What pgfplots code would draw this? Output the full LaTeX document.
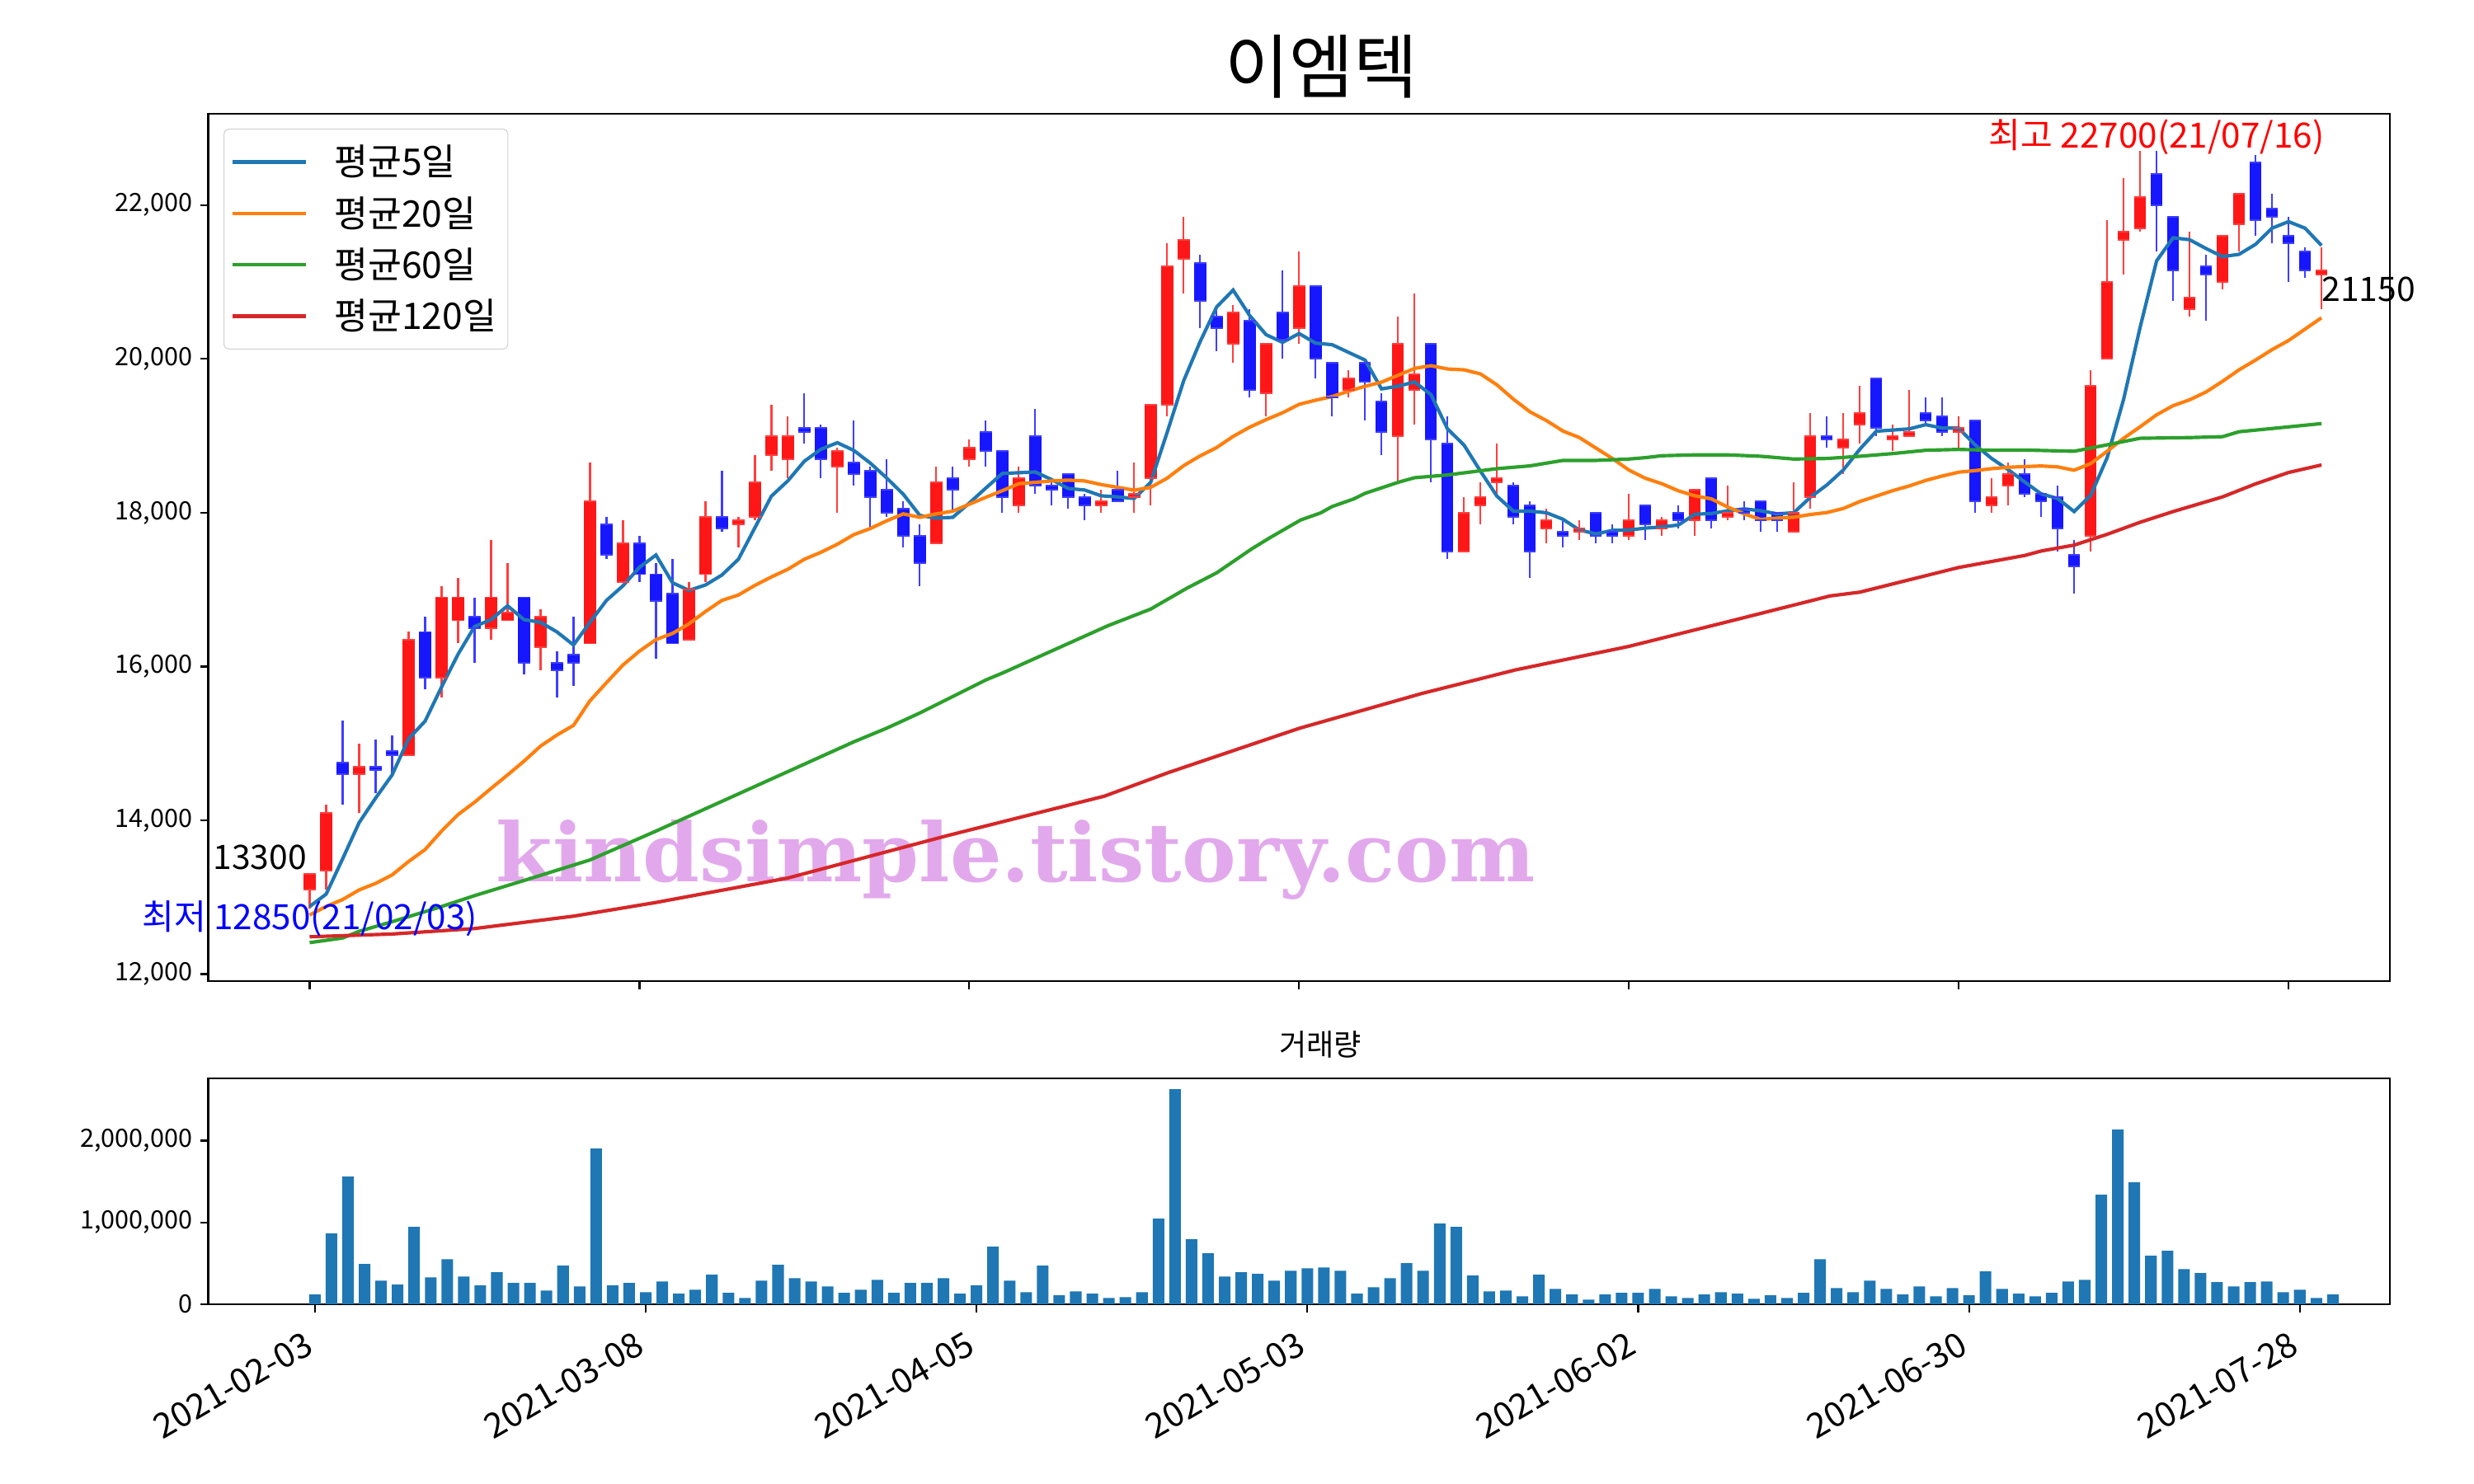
\documentclass[border=0pt]{standalone}
\usepackage{pgfplots}
\pgfplotsset{compat=1.18}
\usepackage{pgfplotstable}
\usepackage{fontspec}
\setmainfont{Noto Sans CJK KR}
\newfontfamily\wmfont{DejaVu Serif}

\definecolor{ma5}{HTML}{1F77B4}
\definecolor{ma20}{HTML}{FF7F0E}
\definecolor{ma60}{HTML}{2CA02C}
\definecolor{ma120}{HTML}{D62728}
\definecolor{upbody}{RGB}{255,22,22}
\definecolor{upwick}{RGB}{255,62,62}
\definecolor{dnbody}{RGB}{22,22,255}
\definecolor{dnwick}{RGB}{62,62,255}
\definecolor{wm}{RGB}{226,168,236}

% candles: i open high low close
\pgfplotstableread{
i o h l c
0 13100 13300 12850 13300
1 13350 14200 13100 14100
3 14600 15000 14100 14700
6 14850 16450 14850 16350
8 15850 17050 15600 16900
9 16600 17150 16300 16900
11 16500 17650 16350 16900
12 16600 17350 16600 16700
14 16250 16750 15950 16650
17 16300 18650 16300 18150
19 17100 17900 17100 17600
23 16350 17100 16350 17000
24 17200 18150 17100 17950
26 17850 17950 17550 17900
27 17950 18750 17900 18400
28 18750 19400 18550 19000
29 18700 19250 18450 19000
32 18600 18850 18000 18800
38 17600 18600 17600 18400
40 18700 18950 18600 18850
43 18100 18600 18000 18450
48 18100 18300 18000 18150
50 18200 18650 18000 18250
51 18450 19400 18100 19400
52 19400 21500 19250 21200
53 21300 21850 20850 21550
56 20200 20700 19950 20600
58 19550 20200 19250 20200
60 20400 21400 20200 20950
63 19600 19850 19500 19750
66 19000 20550 18400 20200
67 19600 20850 19150 19800
70 17500 18200 17500 18000
71 18100 18400 17850 18200
72 18400 18900 18250 18450
75 17800 18050 17600 17900
77 17750 17900 17650 17800
80 17700 18250 17650 17900
82 17800 17950 17700 17900
84 17900 18300 17700 18300
86 17950 18350 17900 18000
90 17750 18400 17750 18000
91 18200 19300 18050 19000
93 18850 19300 18500 18950
94 19150 19650 18900 19300
96 18950 19150 18800 19000
97 19000 19600 19000 19050
100 19050 19250 18850 19100
102 18100 18450 18000 18200
103 18350 18650 18100 18500
108 17700 19850 17500 19650
109 20000 21800 20000 21000
110 21550 22350 21100 21650
111 21700 22700 21650 22100
114 20650 21650 20550 20800
116 21000 21600 20900 21600
117 21750 22150 21400 22150
122 21100 21450 20650 21150
}\candleup

\pgfplotstableread{
i o h l c
2 14750 15300 14200 14600
4 14700 15050 14350 14650
5 14900 15100 14600 14850
7 16450 16650 15700 15850
10 16650 16900 16050 16500
13 16900 16900 15900 16050
15 16050 16200 15600 15950
16 16150 16650 15750 16050
18 17850 17950 17400 17450
20 17600 17700 17100 17200
21 17200 17350 16100 16850
22 16950 17400 16300 16300
25 17950 18550 17750 17800
30 19100 19550 18900 19050
31 19100 19150 18450 18700
33 18650 19200 18350 18500
34 18550 18600 17800 18200
35 18300 18700 17950 18000
36 18050 18150 17550 17700
37 17700 17850 17050 17350
39 18450 18600 18000 18300
41 19050 19200 18600 18800
42 18800 18800 18000 18200
44 19000 19350 18250 18350
45 18350 18450 18100 18300
46 18500 18500 18050 18200
47 18200 18250 17900 18100
49 18300 18550 18150 18150
54 21250 21350 20400 20750
55 20550 20650 20100 20400
57 20500 20650 19500 19600
59 20600 21150 20000 20250
61 20950 20950 19750 20000
62 19950 19950 19250 19500
64 19950 19950 19200 19700
65 19450 19550 18750 19050
68 20200 20200 18400 18950
69 18900 19250 17400 17500
73 18350 18400 17850 17950
74 18100 18150 17150 17500
76 17750 17900 17550 17700
78 18000 18000 17600 17700
79 17750 17850 17600 17700
81 18100 18100 17650 17850
83 18000 18100 17800 17900
85 18450 18450 17800 17900
87 18050 18150 17900 18000
88 18150 18150 17750 17900
89 18000 18000 17750 17900
92 19000 19250 18850 18950
95 19750 19750 19000 19100
98 19300 19500 19150 19200
99 19250 19500 19000 19050
101 19200 19200 18000 18150
104 18500 18700 18200 18250
105 18250 18250 17950 18150
106 18200 18350 17500 17800
107 17450 17650 16950 17300
112 22400 22700 21400 22000
113 21850 21850 20750 21150
115 21200 21350 20500 21100
118 22550 22650 21600 21800
119 21950 22150 21500 21850
120 21600 21850 21000 21500
121 21400 21450 21050 21150
}\candledown

\pgfplotstableread{
i v
0 118000
1 864000
2 1560000
3 491000
4 289000
5 239000
6 945000
7 329000
8 551000
9 339000
10 229000
11 390000
12 259000
13 259000
14 168000
15 471000
16 218000
17 1903000
18 229000
19 259000
20 148000
21 279000
22 128000
23 178000
24 360000
25 138000
26 77000
27 289000
28 481000
29 319000
30 279000
31 218000
32 138000
33 178000
34 299000
35 138000
36 259000
37 259000
38 319000
39 128000
40 229000
41 703000
42 289000
43 148000
44 471000
45 108000
46 158000
47 128000
48 77000
49 87000
50 148000
51 1045000
52 2629000
53 793000
54 622000
55 339000
56 390000
57 370000
58 289000
59 410000
60 440000
61 450000
62 410000
63 128000
64 208000
65 319000
66 501000
67 410000
68 985000
69 945000
70 350000
71 158000
72 168000
73 97000
74 360000
75 188000
76 118000
77 57000
78 118000
79 138000
80 138000
81 188000
82 97000
83 77000
84 118000
85 148000
86 128000
87 67000
88 108000
89 77000
90 138000
91 551000
92 198000
93 148000
94 289000
95 188000
96 118000
97 218000
98 97000
99 198000
100 108000
101 400000
102 188000
103 128000
104 97000
105 138000
106 279000
107 299000
108 1338000
109 2134000
110 1489000
111 592000
112 652000
113 430000
114 380000
115 269000
116 218000
117 269000
118 279000
119 148000
120 178000
121 77000
122 118000
}\volume

\begin{document}
\begin{tikzpicture}
\path[use as bounding box] (0,0) rectangle (1080pt,648pt);

\pgfplotsset{
  mplstyle/.style={
    scale only axis, anchor=south west,
    axis line style={line width=0.8pt},
    tick style={black, line width=0.8pt},
    major tick length=3.5pt, tick align=outside, tick pos=left,
    scaled y ticks=false,
    yticklabel style={font=\fontsize{11}{13}\selectfont},
    xticklabel style={font=\fontsize{15}{17}\selectfont},
  },
}

\node[anchor=base, inner sep=0, font=\fontsize{30.5}{33}\selectfont] at (577pt,607.4pt) {이엠텍};

\begin{axis}[mplstyle,
  at={(90.9pt,219.6pt)}, width=952.4pt, height=378.8pt,
  xmin=-6.15, xmax=126.15, ymin=11910, ymax=23190,
  clip=false,
  xtick={0,20,...,120}, xticklabels={},
  ytick={12000,14000,...,22000},
  yticklabels={{12,000},{14,000},{16,000},{18,000},{20,000},{22,000}},
  legend image code/.code={\draw[#1, line width=1.5pt] (0pt,0pt) -- (32pt,0pt);},
  legend style={at={(0,1)}, anchor=north west, xshift=6.7pt, yshift=-6.6pt,
    draw=black!18, rounded corners=2pt, fill=white, fill opacity=0.85, text opacity=1,
    font=\fontsize{16}{18}\selectfont, cells={anchor=west}, row sep=3.7pt,
    inner xsep=3pt, inner ysep=5pt,
    /tikz/every odd column/.append style={column sep=9.6pt}},
]
% watermark first, lines go over it
\node[anchor=base west, inner sep=0, text=wm, font=\wmfont\bfseries\fontsize{35.5}{38}\selectfont]
  at (axis cs:11.3,13200) {kindsimple.tistory.com};

% wicks
\addplot[forget plot, draw=none, mark=none,
  error bars/.cd, y dir=plus, y explicit, error mark=none,
  error bar style={draw=upwick, line width=0.8pt}]
  table[x=i, y=l, y error expr=\thisrow{h}-\thisrow{l}] {\candleup};
\addplot[forget plot, draw=none, mark=none,
  error bars/.cd, y dir=plus, y explicit, error mark=none,
  error bar style={draw=dnwick, line width=0.8pt}]
  table[x=i, y=l, y error expr=\thisrow{h}-\thisrow{l}] {\candledown};
% bodies
\addplot[forget plot, draw=none, mark=none,
  error bars/.cd, y dir=plus, y explicit, error mark=none,
  error bar style={draw=upbody, line width=5.2pt}]
  table[x=i, y=o, y error expr=\thisrow{c}-\thisrow{o}] {\candleup};
\addplot[forget plot, draw=none, mark=none,
  error bars/.cd, y dir=plus, y explicit, error mark=none,
  error bar style={draw=dnbody, line width=5.2pt}]
  table[x=i, y=c, y error expr=\thisrow{o}-\thisrow{c}] {\candledown};
% body edges at open and close
\addplot[forget plot, only marks, mark=-, mark size=2.6pt, mark options={draw=upwick, line width=0.7pt}]
  table[x=i, y=o] {\candleup};
\addplot[forget plot, only marks, mark=-, mark size=2.6pt, mark options={draw=upwick, line width=0.7pt}]
  table[x=i, y=c] {\candleup};
\addplot[forget plot, only marks, mark=-, mark size=2.6pt, mark options={draw=dnwick, line width=0.7pt}]
  table[x=i, y=o] {\candledown};
\addplot[forget plot, only marks, mark=-, mark size=2.6pt, mark options={draw=dnwick, line width=0.7pt}]
  table[x=i, y=c] {\candledown};

\addplot[ma5, line width=1.5pt] coordinates {
(0,12880) (1,13040) (2,13500) (3,13970) (4,14290) (5,14590) (6,15060) (7,15290) (8,15735) (9,16160)
(10,16520) (11,16610) (12,16790) (13,16610) (14,16575) (15,16450) (16,16280) (17,16575) (18,16860) (19,17050)
(20,17290) (21,17450) (22,17090) (23,16990) (24,17060) (25,17190) (26,17395) (27,17805) (28,18215) (29,18415)
(30,18670) (31,18825) (32,18910) (33,18810) (34,18645) (35,18450) (36,18240) (37,17965) (38,17930) (39,17940)
(40,18125) (41,18320) (42,18510) (43,18520) (44,18530) (45,18430) (46,18315) (47,18295) (48,18220) (49,18205)
(50,18185) (51,18395) (52,19045) (53,19715) (54,20225) (55,20675) (56,20895) (57,20565) (58,20315) (59,20215)
(60,20330) (61,20205) (62,20185) (63,20085) (64,19985) (65,19610) (66,19645) (67,19700) (68,19535) (69,19090)
(70,18880) (71,18540) (72,18215) (73,18020) (74,18020) (75,18000) (76,17915) (77,17775) (78,17725) (79,17770)
(80,17775) (81,17800) (82,17815) (83,17840) (84,17980) (85,17990) (86,18025) (87,18050) (88,18025) (89,17985)
(90,18000) (91,18200) (92,18360) (93,18555) (94,18825) (95,19060) (96,19075) (97,19090) (98,19145) (99,19100)
(100,19100) (101,18880) (102,18705) (103,18560) (104,18400) (105,18245) (106,18185) (107,18015) (108,18225) (109,18715)
(110,19475) (111,20410) (112,21275) (113,21575) (114,21550) (115,21435) (116,21330) (117,21360) (118,21490) (119,21700)
(120,21785) (121,21700) (122,21475)};
\addlegendentry{평균5일}

\addplot[ma20, line width=1.5pt] coordinates {
(0,12770) (1,12880) (2,12970) (3,13095) (4,13180) (5,13290) (6,13465) (7,13620) (8,13860) (9,14075)
(10,14235) (11,14415) (12,14590) (13,14770) (14,14965) (15,15110) (16,15235) (17,15555) (18,15790) (19,16020)
(20,16200) (21,16350) (22,16430) (23,16555) (24,16715) (25,16860) (26,16930) (27,17055) (28,17165) (29,17265)
(30,17395) (31,17485) (32,17590) (33,17715) (34,17795) (35,17895) (36,17985) (37,17940) (38,17985) (39,18020)
(40,18110) (41,18200) (42,18286) (43,18377) (44,18395) (45,18413) (46,18424) (47,18413) (48,18366) (49,18330)
(50,18293) (51,18330) (52,18449) (53,18612) (54,18739) (55,18847) (56,18992) (57,19112) (58,19210) (59,19300)
(60,19409) (61,19463) (62,19510) (63,19580) (64,19644) (65,19698) (66,19787) (67,19876) (68,19912) (69,19869)
(70,19858) (71,19805) (72,19662) (73,19476) (74,19312) (75,19198) (76,19062) (77,18977) (78,18841) (79,18705)
(80,18555) (81,18448) (82,18377) (83,18285) (84,18220) (85,18180) (86,18073) (87,17984) (88,17913) (89,17930)
(90,17941) (91,17977) (92,18002) (93,18055) (94,18145) (95,18216) (96,18287) (97,18348) (98,18420) (99,18477)
(100,18527) (101,18548) (102,18573) (103,18591) (104,18600) (105,18608) (106,18596) (107,18553) (108,18638) (109,18799)
(110,18968) (111,19117) (112,19273) (113,19392) (114,19468) (115,19570) (116,19709) (117,19858) (118,19985) (119,20120)
(120,20239) (121,20387) (122,20535)};
\addlegendentry{평균20일}

\addplot[ma60, line width=1.5pt] coordinates {
(0,12410) (2,12470) (3,12557) (5,12682) (8,12879) (10,13021) (13,13218) (17,13485) (21,13860)
(33,15021) (35,15199) (37,15396) (39,15610) (41,15825) (42,15914) (48.4,16530) (51,16747) (53.2,17019)
(55,17218) (57.1,17526) (58.2,17671) (60.1,17906) (61.3,17997) (62,18080) (63.3,18178) (64,18252)
(66,18395) (67,18455) (69,18491) (72,18573) (74,18609) (76,18680) (78,18680) (80,18698) (81,18716)
(82,18741) (84,18752) (86,18752) (88,18734) (90,18698) (92,18705) (94,18734) (96,18769) (98,18812)
(100,18823) (102,18812) (104,18815) (107,18799) (109,18883) (111,18968) (114,18977) (116,18989)
(117,19053) (119,19095) (122,19159)};
\addlegendentry{평균60일}

\addplot[ma120, line width=1.5pt] coordinates {
(0,12486) (5,12522) (10,12593) (16,12754) (21,12932) (29,13250) (38.7,13803) (48.2,14315) (52.1,14623)
(60,15196) (67.4,15647) (73.1,15955) (80,16262) (86.5,16610) (92.2,16918) (94,16967) (100,17288)
(104,17444) (105,17502) (107,17579) (109,17719) (111,17876) (113,18015) (116,18206) (118,18375)
(120,18523) (122,18621)};
\addlegendentry{평균120일}

\node[anchor=base east, inner sep=0, font=\fontsize{14.7}{16}\selectfont] at (axis cs:-0.15,13360) {13300};
\node[anchor=base, inner sep=0, text=blue, font=\fontsize{15.2}{17}\selectfont] at (axis cs:0,12578) {최저 12850(21/02/03)};
\node[anchor=base, inner sep=0, text=red, font=\fontsize{15.2}{17}\selectfont] at (axis cs:112,22740) {최고 22700(21/07/16)};
\node[anchor=base west, inner sep=0, font=\fontsize{14.7}{16}\selectfont] at (axis cs:122,20750) {21150};
\end{axis}

\node[anchor=base, inner sep=0, font=\fontsize{13}{15}\selectfont] at (576.4pt,187pt) {거래량};

\begin{axis}[mplstyle,
  at={(90.9pt,78.5pt)}, width=952.4pt, height=98.6pt,
  xmin=-6.45, xmax=125.45, ymin=0, ymax=2760000,
  xtick={0,20,...,120},
  xticklabels={2021-02-03,2021-03-08,2021-04-05,2021-05-03,2021-06-02,2021-06-30,2021-07-28},
  xticklabel style={xshift=-4pt, yshift=-3pt, rotate=30, anchor=north east},
  ytick={0,1000000,2000000}, yticklabels={0,{1,000,000},{2,000,000}},
]
\addplot[ybar, bar width=0.7, bar shift=0pt, fill=ma5, draw=none] table[x=i, y=v] {\volume};
\end{axis}
\end{tikzpicture}
\end{document}
